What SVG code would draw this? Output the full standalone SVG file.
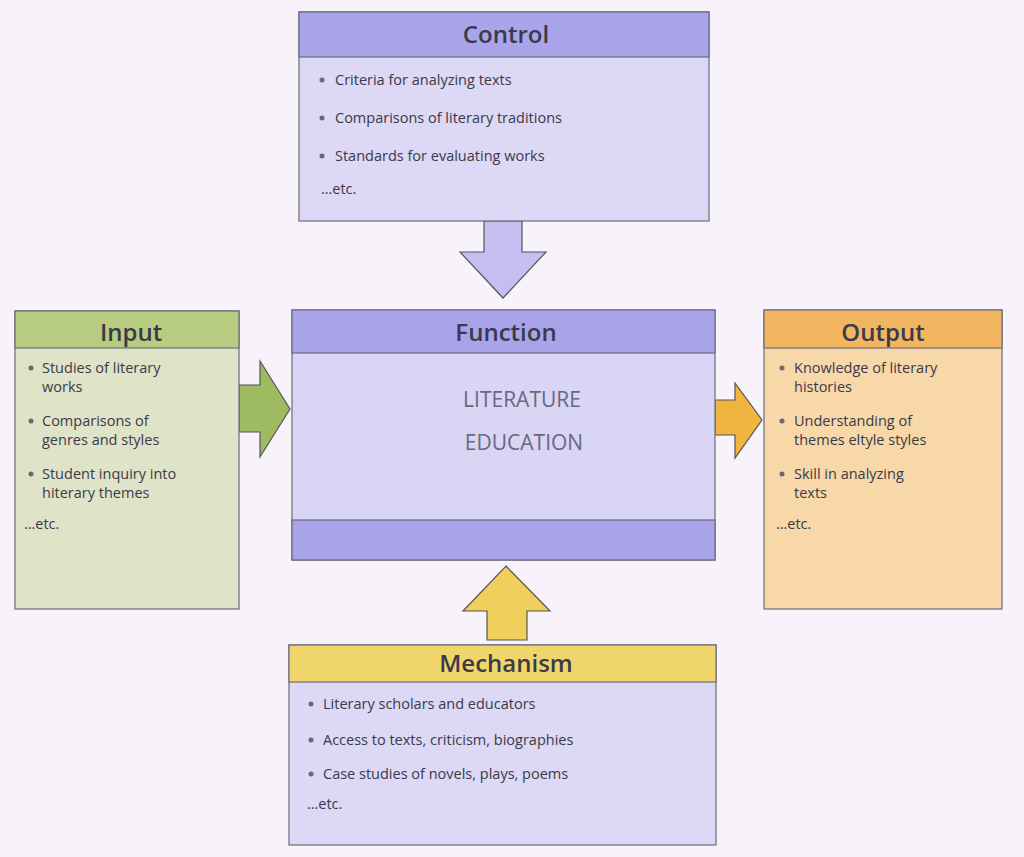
<svg xmlns="http://www.w3.org/2000/svg" width="1024" height="857" viewBox="0 0 1024 857">
<style>
.t{font-family:"Open Sans",Lato,sans-serif;font-size:24px;font-weight:600;fill:#3a3a4a;text-anchor:middle}
.b{font-family:"Open Sans",Lato,sans-serif;font-size:14.5px;fill:#3a3a48}
.f{font-family:"Open Sans",Lato,sans-serif;font-size:21px;fill:#6a6780;text-anchor:middle}
.box{stroke:#6b6b7a;stroke-width:1.2}
.arr{stroke:#555;stroke-width:1.2}
.d{fill:#666a70}
</style>
<rect width="1024" height="857" fill="#f8f3fa"/>
<g id="connectors">
<polygon class="arr" fill="#c4bff0" points="484,221 522,221 522,252 546,252 503,298 460,252 484,252"/>
<polygon class="arr" fill="#9fbb62" points="239,385 260,385 260,361 290,409 260,457 260,432 239,432"/>
<polygon class="arr" fill="#efb53e" points="715,400 735,400 735,383 762,420 735,458 735,435 715,435"/>
<polygon class="arr" fill="#f0cf5c" points="506,566 550,611 527,611 527,640 487,640 487,611 463,611"/>
</g>
<g id="control">
<rect class="box" x="299" y="12" width="410" height="209" fill="#dcd8f5"/>
<rect class="box" x="299" y="12" width="410" height="45" fill="#aaa4eb"/>
<text class="t" x="506" y="43">Control</text>
<circle class="d" cx="322" cy="80" r="2.5"/><text class="b" x="335" y="85">Criteria for analyzing texts</text>
<circle class="d" cx="322" cy="118" r="2.5"/><text class="b" x="335" y="123">Comparisons of literary traditions</text>
<circle class="d" cx="322" cy="156" r="2.5"/><text class="b" x="335" y="161">Standards for evaluating works</text>
<text class="b" x="321" y="194">…etc.</text>
</g>
<g id="function">
<rect class="box" x="292" y="310" width="423" height="250" fill="#d9d5f4"/>
<rect class="box" x="292" y="310" width="423" height="43" fill="#a9a3ea"/>
<rect class="box" x="292" y="520" width="423" height="40" fill="#aaa4eb"/>
<text class="t" x="506" y="341">Function</text>
<text class="f" x="522" y="407">LITERATURE</text>
<text class="f" x="524" y="450">EDUCATION</text>
</g>
<g id="input">
<rect class="box" x="15" y="311" width="224" height="298" fill="#dfe3c8"/>
<rect class="box" x="15" y="311" width="224" height="37" fill="#b7cc80"/>
<text class="t" x="131" y="341">Input</text>
<circle class="d" cx="31" cy="368" r="2.5"/><text class="b" x="42" y="373">Studies of literary</text><text class="b" x="42" y="392">works</text>
<circle class="d" cx="31" cy="421" r="2.5"/><text class="b" x="42" y="426">Comparisons of</text><text class="b" x="42" y="445">genres and styles</text>
<circle class="d" cx="31" cy="474" r="2.5"/><text class="b" x="42" y="479">Student inquiry into</text><text class="b" x="42" y="498">hiterary themes</text>
<text class="b" x="24" y="529">…etc.</text>
</g>
<g id="output">
<rect class="box" x="764" y="310" width="238" height="299" fill="#f8d7a8"/>
<rect class="box" x="764" y="310" width="238" height="38" fill="#f2b660"/>
<text class="t" x="883" y="341">Output</text>
<circle class="d" cx="782" cy="368" r="2.5"/><text class="b" x="794" y="373">Knowledge of literary</text><text class="b" x="794" y="392">histories</text>
<circle class="d" cx="782" cy="421" r="2.5"/><text class="b" x="794" y="426">Understanding of</text><text class="b" x="794" y="445">themes eltyle styles</text>
<circle class="d" cx="782" cy="474" r="2.5"/><text class="b" x="794" y="479">Skill in analyzing</text><text class="b" x="794" y="498">texts</text>
<text class="b" x="776" y="529">…etc.</text>
</g>
<g id="mechanism">
<rect class="box" x="289" y="645" width="427" height="200" fill="#dcd8f5"/>
<rect class="box" x="289" y="645" width="427" height="37" fill="#f0d66a"/>
<text class="t" x="506" y="672">Mechanism</text>
<circle class="d" cx="311" cy="704" r="2.5"/><text class="b" x="323" y="709">Literary scholars and educators</text>
<circle class="d" cx="311" cy="740" r="2.5"/><text class="b" x="323" y="745">Access to texts, criticism, biographies</text>
<circle class="d" cx="311" cy="774" r="2.5"/><text class="b" x="323" y="779">Case studies of novels, plays, poems</text>
<text class="b" x="307" y="809">…etc.</text>
</g>
</svg>
